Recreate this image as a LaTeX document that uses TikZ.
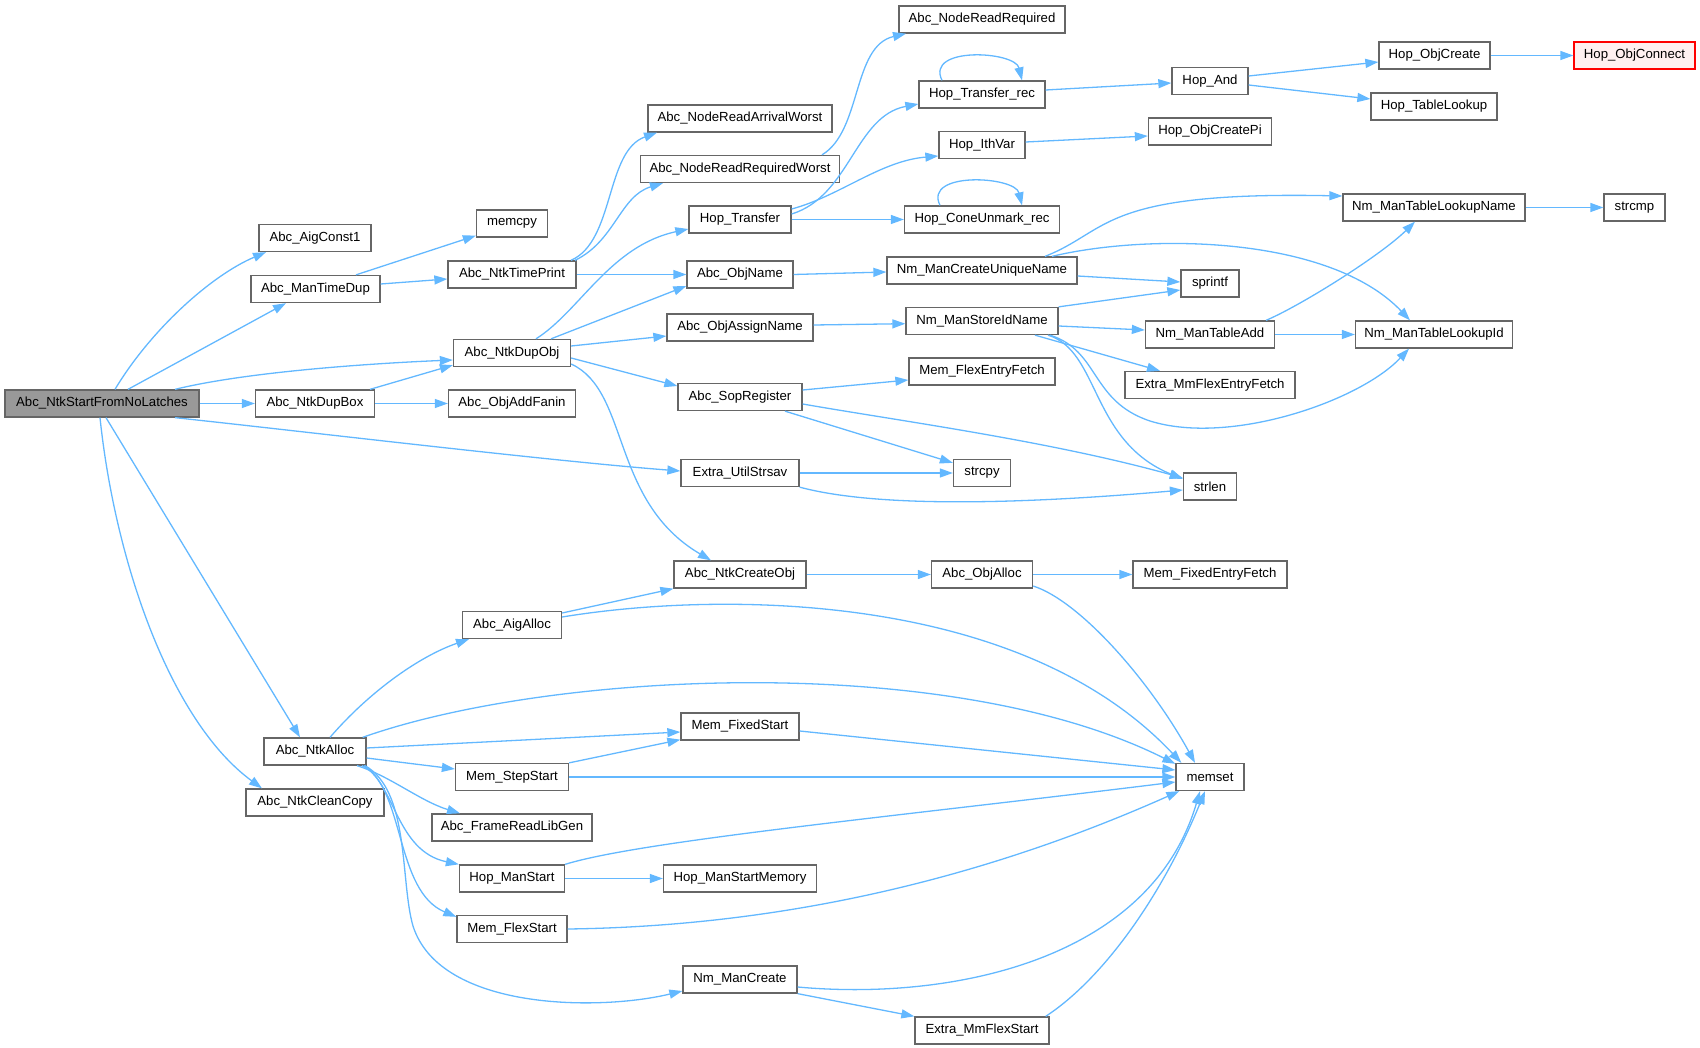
\documentclass[tikz,border=0pt]{standalone}
\usepackage{fontspec}
\setmainfont{Liberation Sans}
\usetikzlibrary{arrows.meta}
\definecolor{edgec}{HTML}{63B8FF}
\definecolor{boxborder}{HTML}{666666}
\definecolor{rootfill}{HTML}{999999}
\definecolor{hlfill}{HTML}{FFF0F0}
\definecolor{hlborder}{HTML}{FF0000}
\tikzset{
  box/.style={draw=boxborder, line width=1.3pt, fill=white, minimum height=27pt, inner sep=0pt,
    font=\fontsize{13.2pt}{15pt}\selectfont, text=black},
  rootbox/.style={box, fill=rootfill},
  hlbox/.style={box, fill=hlfill, draw=hlborder},
  e/.style={draw=edgec, line width=1.3pt, -{Triangle[length=13pt,width=9pt]}}
}
\begin{document}
\begin{tikzpicture}[x=1pt,y=-1pt]
\useasboundingbox (0,-1) rectangle (1700,1047);
% column 0
\node[rootbox, minimum width=194pt] (root) at (102,402.5) {Abc\_NtkStartFromNoLatches};
% column 1
\node[box, minimum width=112pt] (aigc1) at (315,237) {Abc\_AigConst1};
\node[box, minimum width=129pt] (mtd) at (315.5,288) {Abc\_ManTimeDup};
\node[box, minimum width=119pt] (dupbox) at (315,402.5) {Abc\_NtkDupBox};
\node[box, minimum width=102pt] (ntkalloc) at (315,750.5) {Abc\_NtkAlloc};
\node[box, minimum width=138pt] (cleancopy) at (315,801.5) {Abc\_NtkCleanCopy};
% column 2
\node[box, minimum width=71pt] (memcpy) at (512,222.5) {memcpy};
\node[box, minimum width=128pt] (timeprint) at (512,273.5) {Abc\_NtkTimePrint};
\node[box, minimum width=117pt] (dupobj) at (512,352) {Abc\_NtkDupObj};
\node[box, minimum width=127pt] (addfanin) at (512,402.5) {Abc\_ObjAddFanin};
\node[box, minimum width=99pt] (aigalloc) at (512,624) {Abc\_AigAlloc};
\node[box, minimum width=113pt] (stepstart) at (512,776) {Mem\_StepStart};
\node[box, minimum width=160pt] (libgen) at (512,826.5) {Abc\_FrameReadLibGen};
\node[box, minimum width=105pt] (hopmanstart) at (512,877.5) {Hop\_ManStart};
\node[box, minimum width=110pt] (flexstart) at (512,928) {Mem\_FlexStart};
% column 3
\node[box, minimum width=184pt] (arrival) at (740,117.5) {Abc\_NodeReadArrivalWorst};
\node[box, minimum width=199pt] (reqworst) at (740,168) {Abc\_NodeReadRequiredWorst};
\node[box, minimum width=102pt] (hoptransfer) at (740,218.5) {Hop\_Transfer};
\node[box, minimum width=106pt] (objname) at (740,273.5) {Abc\_ObjName};
\node[box, minimum width=146pt] (assignname) at (740,326.5) {Abc\_ObjAssignName};
\node[box, minimum width=124pt] (sopreg) at (740,396) {Abc\_SopRegister};
\node[box, minimum width=118pt] (strsav) at (740,472) {Extra\_UtilStrsav};
\node[box, minimum width=132pt] (createobj) at (740,573.5) {Abc\_NtkCreateObj};
\node[box, minimum width=118pt] (fixedstart) at (740,725.5) {Mem\_FixedStart};
\node[box, minimum width=153pt] (startmem) at (740,877.5) {Hop\_ManStartMemory};
\node[box, minimum width=114pt] (nmcreate) at (740,978.5) {Nm\_ManCreate};
% column 4
\node[box, minimum width=166pt] (readreq) at (982,18.5) {Abc\_NodeReadRequired};
\node[box, minimum width=126pt] (transrec) at (982,93.5) {Hop\_Transfer\_rec};
\node[box, minimum width=86pt] (ithvar) at (982,144) {Hop\_IthVar};
\node[box, minimum width=155pt] (coneunmark) at (982,218.5) {Hop\_ConeUnmark\_rec};
\node[box, minimum width=190pt] (uniqname) at (982,269.5) {Nm\_ManCreateUniqueName};
\node[box, minimum width=152pt] (storeid) at (982,320) {Nm\_ManStoreIdName};
\node[box, minimum width=146pt] (flexentry) at (982,370.5) {Mem\_FlexEntryFetch};
\node[box, minimum width=57pt] (strcpy) at (982,472) {strcpy};
\node[box, minimum width=101pt] (objalloc) at (982,573.5) {Abc\_ObjAlloc};
\node[box, minimum width=134pt] (mmflexstart) at (982,1029.5) {Extra\_MmFlexStart};
% column 5
\node[box, minimum width=76pt] (hopand) at (1210,80) {Hop\_And};
\node[box, minimum width=123pt] (objcreatepi) at (1210,130.5) {Hop\_ObjCreatePi};
\node[box, minimum width=58pt] (sprintf) at (1210,282.5) {sprintf};
\node[box, minimum width=129pt] (tableadd) at (1210,333.5) {Nm\_ManTableAdd};
\node[box, minimum width=170pt] (mmflexentry) at (1210,384) {Extra\_MmFlexEntryFetch};
\node[box, minimum width=53pt] (strlen) at (1210,485.5) {strlen};
\node[box, minimum width=154pt] (fixedentry) at (1210,573.5) {Mem\_FixedEntryFetch};
\node[box, minimum width=68pt] (memset) at (1210,776) {memset};
% column 6
\node[box, minimum width=111pt] (objcreate) at (1434.5,54.5) {Hop\_ObjCreate};
\node[box, minimum width=126pt] (tablelookup) at (1434,105.5) {Hop\_TableLookup};
\node[box, minimum width=182pt] (lookupname) at (1434,206.5) {Nm\_ManTableLookupName};
\node[box, minimum width=157pt] (lookupid) at (1434,333.5) {Nm\_ManTableLookupId};
% column 7
\node[hlbox, minimum width=121pt] (objconnect) at (1634.5,54.5) {Hop\_ObjConnect};
\node[box, minimum width=61pt] (strcmp) at (1634.5,206.5) {strcmp};

% edges from root
\draw[e] ([xshift=13pt]root.north) .. controls (150,330) and (210,275) .. ([xshift=-49pt]aigc1.south);
\draw[e] ([xshift=26pt]root.north) -- ([xshift=-29.5pt]mtd.south);
\draw[e] ([xshift=73pt]root.north) .. controls (250,370) and (380,362) .. ([yshift=-7pt]dupobj.west);
\draw[e] (root.east) -- (dupbox.west);
\draw[e] ([xshift=73pt]root.south) .. controls (300,430) and (550,460) .. ([yshift=2pt]strsav.west);
\draw[e] ([xshift=4pt]root.south) -- ([xshift=-15pt]ntkalloc.north);
\draw[e] ([xshift=-2pt]root.south) .. controls (115,560) and (170,720) .. ([xshift=-53pt]cleancopy.north);
% ManTimeDup
\draw[e] ([xshift=40.5pt]mtd.north) -- ([yshift=2pt]memcpy.south west);
\draw[e] ([yshift=5pt]mtd.east) -- ([yshift=-4.5pt]timeprint.west);
% NtkTimePrint
\draw[e] ([xshift=59pt]timeprint.north) .. controls (615,240) and (605,150) .. ([xshift=-83pt]arrival.south);
\draw[e] ([xshift=63pt]timeprint.north) .. controls (615,240) and (620,195) .. ([xshift=-77pt]reqworst.south);
\draw[e] (timeprint.east) -- (objname.west);
\draw[e] ([xshift=82pt]reqworst.north) .. controls (862,130) and (852,45) .. ([xshift=-76pt]readreq.south);
% NtkDupBox
\draw[e] ([xshift=55pt]dupbox.north) -- ([yshift=2pt]dupobj.south west);
\draw[e] (dupbox.east) -- (addfanin.west);
% NtkDupObj
\draw[e] ([xshift=24pt]dupobj.north) .. controls (580,310) and (610,245) .. ([yshift=-9.5pt]hoptransfer.west);
\draw[e] ([xshift=39pt]dupobj.north) -- ([yshift=-11.5pt]objname.west);
\draw[e] ([yshift=7pt]dupobj.east) -- ([yshift=-8.5pt]assignname.west);
\draw[e] ([yshift=-5pt]dupobj.east) -- ([yshift=11pt]sopreg.west);
\draw[e] ([yshift=-11pt]dupobj.east) .. controls (630,390) and (610,500) .. ([xshift=-29pt]createobj.north);
% Hop_Transfer
\draw[e] ([yshift=5.5pt]hoptransfer.east) .. controls (850,195) and (855,115) .. ([yshift=-9.5pt]transrec.west);
\draw[e] ([yshift=10.5pt]hoptransfer.east) .. controls (840,195) and (880,160) .. ([yshift=-11pt]ithvar.west);
\draw[e] (hoptransfer.east) -- (coneunmark.west);
\draw[e] ([xshift=-40pt]transrec.north) .. controls (925,45) and (1015,50) .. ([xshift=40pt]transrec.north);
\draw[e] ([xshift=-42pt]coneunmark.north) .. controls (923,170) and (1015,175) .. ([xshift=40pt]coneunmark.north);
\draw[e] ([yshift=4.5pt]transrec.east) -- ([yshift=-2pt]hopand.west);
\draw[e] ([yshift=3pt]ithvar.east) -- ([yshift=-4.5pt]objcreatepi.west);
\draw[e] ([yshift=5pt]hopand.east) -- ([yshift=-6.5pt]objcreate.west);
\draw[e] ([yshift=-4pt]hopand.east) -- ([yshift=7.5pt]tablelookup.west);
\draw[e] (objcreate.east) -- (objconnect.west);
% names
\draw[e] (objname.east) -- ([yshift=-1.5pt]uniqname.west);
\draw[e] ([xshift=63pt]uniqname.north) .. controls (1110,230) and (1100,190) .. ([yshift=11.5pt]lookupname.west);
\draw[e] ([xshift=70pt]uniqname.north) .. controls (1150,232) and (1330,235) .. ([xshift=-24pt]lookupid.north);
\draw[e] ([yshift=-5.5pt]uniqname.east) -- ([yshift=1.5pt]sprintf.west);
\draw[e] (lookupname.east) -- (strcmp.west);
\draw[e] ([yshift=2.5pt]assignname.east) -- ([yshift=-2.7pt]storeid.west);
\draw[e] (storeid.north east) -- ([yshift=-6.5pt]sprintf.west);
\draw[e] ([yshift=-5pt]storeid.east) -- ([yshift=4.5pt]tableadd.west);
\draw[e] ([xshift=53pt]storeid.south) -- ([xshift=-50pt]mmflexentry.north);
\draw[e] ([xshift=68pt]storeid.south) .. controls (1100,350) and (1090,400) .. (1150,420) .. controls (1230,445) and (1360,400) .. ([xshift=-25pt]lookupid.south);
\draw[e] ([xshift=66pt]storeid.south) .. controls (1100,350) and (1090,440) .. ([yshift=7.5pt]strlen.west);
\draw[e] ([xshift=56pt]tableadd.north) .. controls (1300,305) and (1380,255) .. ([xshift=-19pt]lookupname.south);
\draw[e] (tableadd.east) -- (lookupid.west);
% SopRegister / strsav
\draw[e] ([yshift=7pt]sopreg.east) -- ([yshift=-8.5pt]flexentry.west);
\draw[e] ([xshift=45pt]sopreg.south) -- ([yshift=-4pt]strcpy.north west);
\draw[e] ([yshift=-7pt]sopreg.east) .. controls (900,420) and (1050,440) .. ([yshift=8.5pt]strlen.west);
\draw[e] (strsav.east) -- (strcpy.west);
\draw[e] (strsav.south east) .. controls (870,505) and (1000,505) .. ([yshift=-3.5pt]strlen.west);
% object alloc
\draw[e] (createobj.east) -- (objalloc.west);
\draw[e] (objalloc.east) -- (fixedentry.west);
\draw[e] ([yshift=-11.5pt]objalloc.east) .. controls (1080,600) and (1150,680) .. ([xshift=-15pt]memset.north);
\draw[e] ([yshift=12pt]aigalloc.east) -- (createobj.south west);
\draw[e] ([yshift=8pt]aigalloc.east) .. controls (720,590) and (1020,590) .. ([xshift=6pt]memset.north west);
% NtkAlloc
\draw[e] ([xshift=15pt]ntkalloc.north) .. controls (370,690) and (420,655) .. ([xshift=-43pt]aigalloc.south);
\draw[e] ([xshift=-4pt]ntkalloc.north east) .. controls (550,670) and (950,650) .. ([yshift=-1pt]memset.north west);
\draw[e] ([yshift=3.5pt]ntkalloc.east) -- ([yshift=-5.5pt]fixedstart.west);
\draw[e] ([yshift=-6.5pt]ntkalloc.east) -- ([yshift=8pt]stepstart.west);
\draw[e] ([xshift=42pt]ntkalloc.south) .. controls (390,775) and (420,800) .. ([xshift=-52pt]libgen.north);
\draw[e] ([xshift=47pt]ntkalloc.south) .. controls (395,780) and (395,850) .. (hopmanstart.north west);
\draw[e] ([xshift=49pt]ntkalloc.south) .. controls (405,790) and (395,890) .. ([yshift=-2pt]flexstart.north west);
\draw[e] ([xshift=50pt]ntkalloc.south) .. controls (410,790) and (400,880) .. (413,925) .. controls (440,1010) and (600,1010) .. ([yshift=-11.5pt]nmcreate.west);
% memset fan-in
\draw[e] (stepstart.north east) -- ([yshift=1pt]fixedstart.south west);
\draw[e] (stepstart.east) -- (memset.west);
\draw[e] ([yshift=-4.5pt]fixedstart.east) -- ([yshift=7pt]memset.west);
\draw[e] (hopmanstart.east) -- (startmem.west);
\draw[e] (hopmanstart.north east) .. controls (640,840) and (900,815) .. ([yshift=-5pt]memset.west);
\draw[e] (flexstart.east) .. controls (800,925) and (1000,870) .. ([xshift=4pt]memset.south west);
\draw[e] ([yshift=-7.5pt]nmcreate.east) .. controls (950,1000) and (1150,960) .. ([xshift=-10pt]memset.south);
\draw[e] (nmcreate.south east) -- (mmflexstart.north west);
\draw[e] ([xshift=-4pt]mmflexstart.north east) .. controls (1100,980) and (1160,900) .. ([xshift=-5pt]memset.south);
\end{tikzpicture}
\end{document}
